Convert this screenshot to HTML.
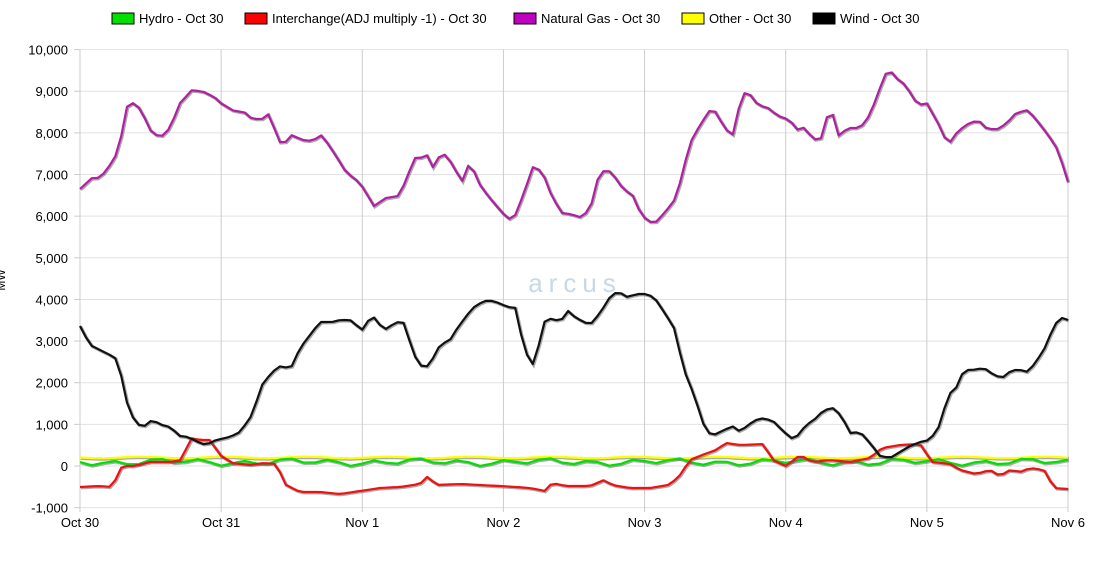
<!DOCTYPE html>
<html><head><meta charset="utf-8"><style>
body{margin:0;background:#fff;font-family:"Liberation Sans",Arial,sans-serif}
</style></head><body>
<svg id="s" width="1100" height="560" xmlns="http://www.w3.org/2000/svg" font-family="Liberation Sans, Arial, sans-serif">
<g id="grid"></g>
<g font-size="13" fill="#000">
<rect x="112" y="13" width="22" height="11" fill="#00e000" stroke="#000"/><text x="139" y="23">Hydro - Oct 30</text>
<rect x="245" y="13" width="22" height="11" fill="#ff0000" stroke="#000"/><text x="272" y="23">Interchange(ADJ multiply -1) - Oct 30</text>
<rect x="514" y="13" width="22" height="11" fill="#c000c0" stroke="#000"/><text x="541" y="23">Natural Gas - Oct 30</text>
<rect x="682" y="13" width="22" height="11" fill="#ffff00" stroke="#000"/><text x="709" y="23">Other - Oct 30</text>
<rect x="813" y="13" width="22" height="11" fill="#000" stroke="#000"/><text x="840" y="23">Wind - Oct 30</text>
</g>
<text x="575" y="292" font-size="26" fill="#c8d8e4" text-anchor="middle" letter-spacing="6">arcus</text>
<text transform="translate(5,280) rotate(-90)" font-size="12" text-anchor="middle">MW</text>
<g id="series"></g>
</svg>
<script>
const NS="http://www.w3.org/2000/svg";
const g=document.getElementById('grid'), s=document.getElementById('series');
function el(p,t,a,txt){const e=document.createElementNS(NS,t);for(const k in a)e.setAttribute(k,a[k]);if(txt!=null)e.textContent=txt;p.appendChild(e);return e;}
const X0=80,X1=1068,Y=v=>466-v*0.04164;
for(let v=-1000;v<=10000;v+=1000){const y=Y(v);el(g,'line',{x1:X0,x2:X1,y1:y,y2:y,stroke:'#e2e2e2'});el(g,'line',{x1:74,x2:X0,y1:y,y2:y,stroke:'#ccc'});el(g,'text',{x:68,y:y+5,'font-size':13,'text-anchor':'end'},v.toLocaleString('en-US'));}
const days=['Oct 30','Oct 31','Nov 1','Nov 2','Nov 3','Nov 4','Nov 5','Nov 6'];
days.forEach((d,i)=>{const x=X0+i*(X1-X0)/7;el(g,'line',{x1:x,x2:x,y1:Y(10000),y2:512,stroke:'#ccc'});el(g,'text',{x:x,y:527,'font-size':13,'text-anchor':'middle'},d);});
function interp(k,x){for(let i=0;i<k.length-1;i++){if(x>=k[i][0]&&x<=k[i+1][0]){const t=(x-k[i][0])/(k[i+1][0]-k[i][0]);return k[i][1]+t*(k[i+1][1]-k[i][1]);}}return k[k.length-1][1];}
function draw(k,col){const pts=[];for(let i=0;i<=168;i++){const x=X0+i*(X1-X0)/168;pts.push(x.toFixed(1)+','+interp(k,x).toFixed(1));}
el(s,'polyline',{points:pts.join(' '),fill:'none',stroke:'#555',"stroke-width":3.2,opacity:.5,transform:'translate(0.8,0.8)'});
el(s,'polyline',{points:pts.join(' '),fill:'none',stroke:col,"stroke-width":2.2,"stroke-linejoin":"round"});}
const gas=[[80,189],[92,178],[100,178],[108,168],[118,152],[128,102],[136,104],[142,112],[150,130],[160,138],[170,128],[180,103],[192,90],[204,92],[214,97],[222,104],[234,111],[244,112],[252,119],[262,119],[270,113],[276,135],[282,146],[292,135],[302,140],[312,141],[322,135],[334,153],[346,172],[360,183],[374,206],[386,198],[398,196],[406,181],[414,158],[420,158],[428,155],[434,170],[440,154],[446,155],[456,170],[460,190],[466,166],[472,166],[478,182],[488,196],[500,210],[508,219],[514,218],[522,198],[534,164],[544,176],[552,197],[562,213],[570,214],[580,217],[590,210],[598,178],[606,168],[614,176],[624,190],[632,194],[640,212],[648,222],[656,222],[666,211],[676,198],[682,175],[690,143],[700,125],[710,110],[716,112],[720,120],[732,138],[742,94],[748,92],[758,105],[768,108],[778,116],[790,120],[796,130],[806,127],[812,140],[822,138],[830,104],[838,136],[848,128],[860,128],[870,115],[880,88],[888,68],[896,78],[904,84],[912,95],[918,106],[926,102],[938,123],[948,145],[958,131],[968,124],[978,120],[986,128],[996,130],[1006,124],[1016,113],[1028,110],[1038,122],[1048,135],[1058,150],[1068,182]];
const wind=[[80,326],[90,345],[100,350],[110,355],[118,360],[126,400],[134,420],[142,428],[152,420],[162,425],[170,427],[180,436],[188,437],[198,442],[206,445],[216,440],[230,437],[240,432],[252,415],[262,385],[272,372],[282,365],[290,370],[300,348],[310,335],[320,322],[332,322],[340,320],[350,320],[362,330],[372,315],[384,330],[392,325],[398,322],[404,323],[414,355],[424,370],[432,360],[440,345],[450,340],[458,327],[468,314],[476,305],[488,300],[496,302],[508,307],[516,308],[524,350],[534,366],[544,322],[552,318],[560,322],[568,311],[576,318],[590,325],[600,313],[610,297],[618,291],[626,297],[638,294],[648,294],[656,300],[666,315],[674,328],[684,370],[694,395],[706,432],[714,435],[724,430],[734,426],[740,432],[748,425],[756,420],[764,418],[774,422],[784,432],[794,440],[806,425],[814,420],[824,410],[834,408],[842,417],[850,433],[860,432],[870,443],[880,456],[890,458],[900,452],[910,446],[920,442],[930,440],[940,425],[948,395],[956,388],[964,370],[972,370],[984,368],[994,375],[1002,378],[1012,370],[1020,370],[1028,372],[1036,362],[1046,346],[1054,325],[1062,318],[1068,320]];
const ic=[[80,487],[100,486],[112,487],[122,466],[134,466],[150,462],[170,462],[182,460],[190,438],[200,440],[210,440],[220,455],[232,463],[250,465],[264,463],[276,464],[286,485],[300,492],[320,492],[340,494],[360,491],[380,488],[400,487],[420,484],[428,476],[436,485],[460,484],[480,485],[500,486],[530,488],[545,491],[552,483],[566,486],[590,486],[604,480],[612,485],[630,488],[650,488],[668,485],[678,478],[690,460],[702,455],[716,450],[726,443],[740,445],[764,444],[772,460],[786,466],[800,455],[812,462],[830,460],[850,462],[870,458],[882,448],[900,445],[920,444],[932,462],[950,464],[960,470],[976,474],[990,470],[1000,476],[1010,470],[1020,472],[1030,468],[1044,470],[1054,488],[1068,489]];
const hy=[],ot=[];
for(let i=0;i<=84;i++){const x=X0+i*(X1-X0)/84;hy.push([x,462+2.5*Math.sin(i*1.7)+1.5*Math.sin(i*0.6)]);ot.push([x,457.5+0.8*Math.sin(i*0.9)]);}
draw(ot,'#ffff00');draw(hy,'#00e000');draw(ic,'#ee1111');draw(wind,'#111');draw(gas,'#b020a0');
</script>
</body></html>
